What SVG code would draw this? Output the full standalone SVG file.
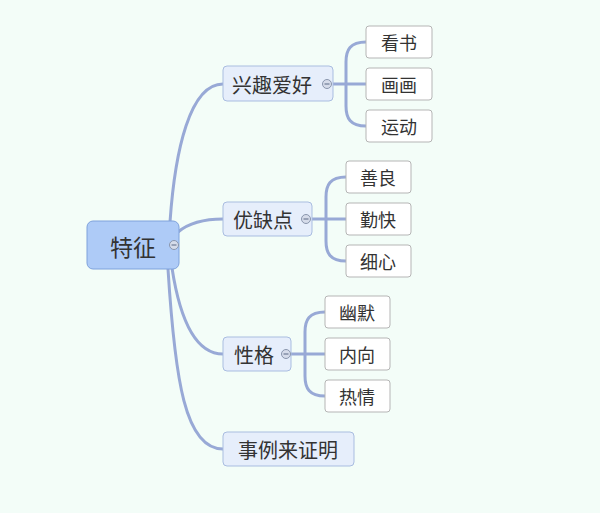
<svg xmlns="http://www.w3.org/2000/svg" width="600" height="513" viewBox="0 0 600 513">
<style>
text{font-family:"Noto Sans CJK SC","Noto Sans",sans-serif;fill:#333;text-anchor:middle;dominant-baseline:central}
.l1 rect{fill:#e6eefb;stroke:#a9bde0;stroke-width:1}
.l1 text{font-size:20px}
.lf rect{fill:#fff;stroke:#b5b5b5;stroke-width:1}
.lf text{font-size:18px}
.c{fill:#d6dcea;stroke:#8a96ad;stroke-width:1}
.m{stroke:#6f7c95;stroke-width:1.2}
#edges path{fill:none;stroke:#98a9d6;stroke-width:3}
</style>
<rect width="600" height="513" fill="#f3fdf8"/>
<g id="edges">
<path d="M170,222 C175,150 190,84 223,84"/>
<path d="M178,232 C190,222 205,219 223,219"/>
<path d="M172,268 C180,320 195,354 223,354"/>
<path d="M168,269 C175,380 185,449 223,449"/>
<g style="stroke-width:2">
<path d="M333,84 H366 M366,42 C350,42 346,50 346,62 V106 C346,118 350,126 366,126"/>
<path d="M312,219 H346 M346,177 C330,177 326,185 326,197 V241 C326,253 330,261 346,261"/>
<path d="M291,354 H325 M325,312 C309,312 305,320 305,332 V376 C305,388 309,396 325,396"/>
</g>
</g>
<g id="root"><rect x="87" y="221" width="92" height="48" rx="6" fill="#aecbf7" stroke="#7fa2dc"/><text x="133" y="246" font-size="23">特征</text><circle class="c" cx="174" cy="245" r="4.5"/><path class="m" d="M171.5,245 H176.5"/></g>
<g id="n1" class="l1"><rect x="223" y="66" width="110" height="35" rx="4"/><text x="272" y="84">兴趣爱好</text><circle class="c" cx="327" cy="84" r="4.5"/><path class="m" d="M324.5,84 H329.5"/></g>
<g id="n2" class="l1"><rect x="223" y="202" width="89" height="34" rx="4"/><text x="263" y="219">优缺点</text><circle class="c" cx="306" cy="219" r="4.5"/><path class="m" d="M303.5,219 H308.5"/></g>
<g id="n3" class="l1"><rect x="223" y="337" width="68" height="34" rx="4"/><text x="254" y="354">性格</text><circle class="c" cx="286" cy="354" r="4.5"/><path class="m" d="M283.5,354 H288.5"/></g>
<g id="n4" class="l1"><rect x="223" y="432" width="131" height="34" rx="4"/><text x="288" y="449">事例来证明</text></g>
<g id="a1" class="lf"><rect x="366" y="26" width="66" height="32" rx="3"/><text x="399" y="42">看书</text></g>
<g id="a2" class="lf"><rect x="366" y="68" width="66" height="32" rx="3"/><text x="399" y="84">画画</text></g>
<g id="a3" class="lf"><rect x="366" y="110" width="66" height="32" rx="3"/><text x="399" y="126">运动</text></g>
<g id="b1" class="lf"><rect x="346" y="161" width="65" height="32" rx="3"/><text x="378" y="177">善良</text></g>
<g id="b2" class="lf"><rect x="346" y="203" width="65" height="32" rx="3"/><text x="378" y="219">勤快</text></g>
<g id="b3" class="lf"><rect x="346" y="245" width="65" height="32" rx="3"/><text x="378" y="261">细心</text></g>
<g id="c1" class="lf"><rect x="325" y="296" width="65" height="32" rx="3"/><text x="357" y="312">幽默</text></g>
<g id="c2" class="lf"><rect x="325" y="338" width="65" height="32" rx="3"/><text x="357" y="354">内向</text></g>
<g id="c3" class="lf"><rect x="325" y="380" width="65" height="32" rx="3"/><text x="357" y="396">热情</text></g>
</svg>
